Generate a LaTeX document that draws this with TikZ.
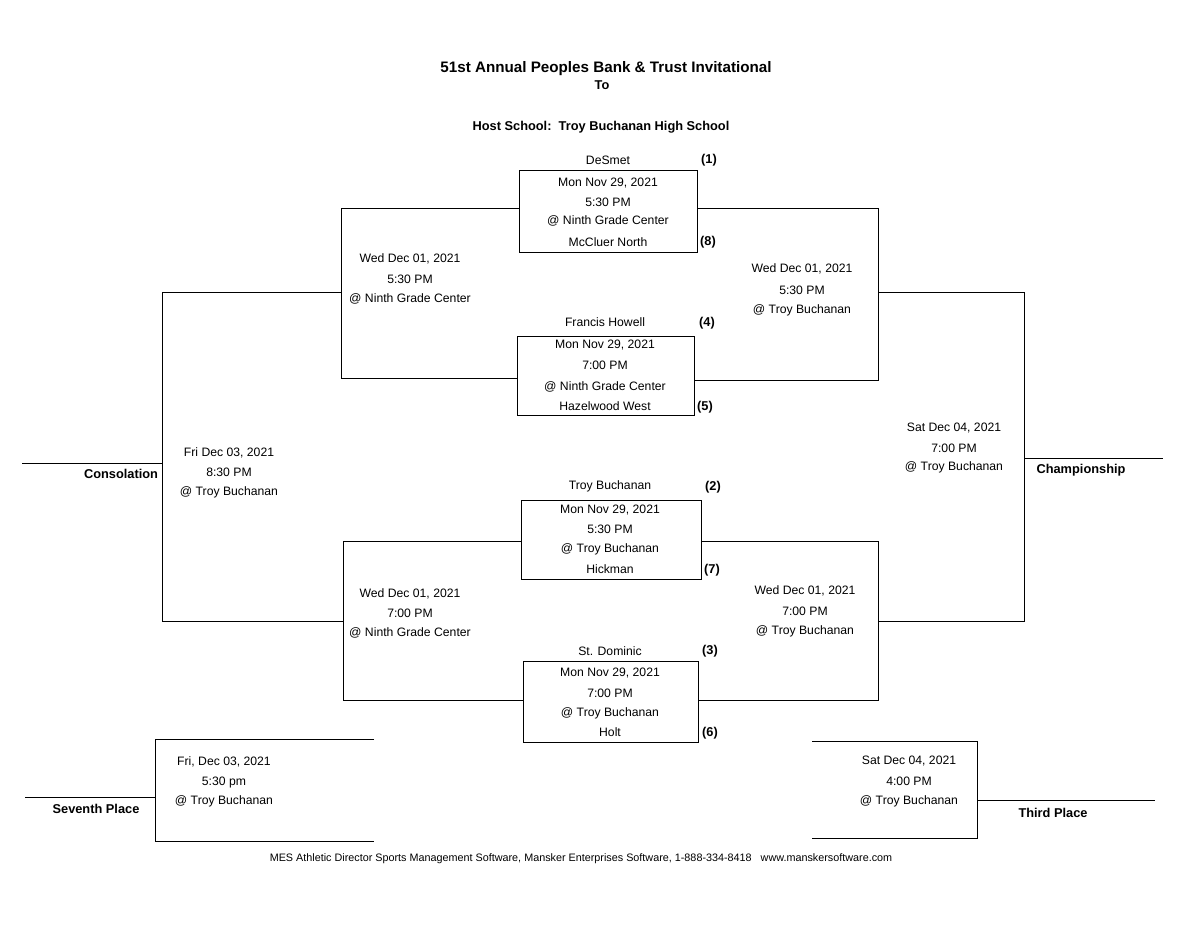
\documentclass[tikz,border=0pt]{standalone}
\usepackage{fontspec}
\setmainfont{Liberation Sans}
\begin{document}
\begin{tikzpicture}[x=0.5pt,y=-0.5pt,
  t/.style={font=\fontsize{6.1pt}{7pt}\selectfont,inner sep=0pt},
  b/.style={font=\fontsize{6.4pt}{7pt}\selectfont\bfseries,inner sep=0pt},
  l/.style={line width=0.5pt}]
\useasboundingbox (0,0) rectangle (1200,927);
% title
\node[font=\fontsize{7.6pt}{9pt}\selectfont\bfseries,inner sep=0] (title) at (606,69) {51st Annual Peoples Bank \& Trust Invitational};
\node[b] (to) at (602,85) {To};
\node[b] (host) at (601,127) {Host School:\ \ Troy Buchanan High School};
% boxes
\draw[l] (519,170) rectangle (697,252);
\draw[l] (517,336) rectangle (694,415);
\draw[l] (521,500) rectangle (701,579);
\draw[l] (523,661) rectangle (698,742);
% brackets
\draw[l] (519,208) -- (341,208) -- (341,378) -- (517,378);
\draw[l] (697,208) -- (878,208) -- (878,380) -- (694,380);
\draw[l] (521,541) -- (343,541) -- (343,700) -- (523,700);
\draw[l] (701,541) -- (878,541) -- (878,700) -- (698,700);
\draw[l] (341,292) -- (162,292) -- (162,621) -- (343,621);
\draw[l] (878,292) -- (1024,292) -- (1024,621) -- (878,621);
\draw[l] (22,463) -- (162,463);
\draw[l] (1024,458) -- (1163,458);
\draw[l] (374,739) -- (155,739) -- (155,841) -- (374,841);
\draw[l] (25,797) -- (155,797);
\draw[l] (812,741) -- (977,741) -- (977,838) -- (812,838);
\draw[l] (977,800) -- (1155,800);
% box 1
\node[t] (a1) at (608,160) {DeSmet};
\node[b] (s1) at (709,160) {(1)};
\node[t] (a2) at (608,183) {Mon Nov 29, 2021};
\node[t] (a3) at (608,202) {5:30 PM};
\node[t] (a4) at (608,221) {@ Ninth Grade Center};
\node[t] (a5) at (608,242) {McCluer North};
\node[b] (s8) at (708,242) {(8)};
% box 2
\node[t] (b1) at (605,322) {Francis Howell};
\node[b] (s4) at (707,323) {(4)};
\node[t] (b2) at (605,345) {Mon Nov 29, 2021};
\node[t] (b3) at (605,365) {7:00 PM};
\node[t] (b4) at (605,387) {@ Ninth Grade Center};
\node[t] (b5) at (605,406) {Hazelwood West};
\node[b] (s5) at (705,407) {(5)};
% box 3
\node[t] (c1) at (610,486) {Troy Buchanan};
\node[b] (s2) at (713,487) {(2)};
\node[t] (c2) at (610,510) {Mon Nov 29, 2021};
\node[t] (c3) at (610,529) {5:30 PM};
\node[t] (c4) at (610,549) {@ Troy Buchanan};
\node[t] (c5) at (610,569) {Hickman};
\node[b] (s7) at (712,570) {(7)};
% box 4
\node[t] (d1) at (610,651) {St. Dominic};
\node[b] (s3) at (710,651) {(3)};
\node[t] (d2) at (610,673) {Mon Nov 29, 2021};
\node[t] (d3) at (610,693) {7:00 PM};
\node[t] (d4) at (610,713) {@ Troy Buchanan};
\node[t] (d5) at (610,732) {Holt};
\node[b] (s6) at (710,733) {(6)};
% semis
\node[t] (e1) at (410,259) {Wed Dec 01, 2021};
\node[t] (e2) at (410,279) {5:30 PM};
\node[t] (e3) at (410,299) {@ Ninth Grade Center};
\node[t] (f1) at (802,269) {Wed Dec 01, 2021};
\node[t] (f2) at (802,290) {5:30 PM};
\node[t] (f3) at (802,310) {@ Troy Buchanan};
\node[t] (g1) at (410,594) {Wed Dec 01, 2021};
\node[t] (g2) at (410,613) {7:00 PM};
\node[t] (g3) at (410,633) {@ Ninth Grade Center};
\node[t] (h1) at (805,591) {Wed Dec 01, 2021};
\node[t] (h2) at (805,611) {7:00 PM};
\node[t] (h3) at (805,631) {@ Troy Buchanan};
% finals
\node[t] (i1) at (229,453) {Fri Dec 03, 2021};
\node[t] (i2) at (229,472) {8:30 PM};
\node[t] (i3) at (229,492) {@ Troy Buchanan};
\node[t] (j1) at (954,428) {Sat Dec 04, 2021};
\node[t] (j2) at (954,448) {7:00 PM};
\node[t] (j3) at (954,467) {@ Troy Buchanan};
\node[b] (cons) at (121,474) {Consolation};
\node[b] (champ) at (1081,470) {Championship};
\node[t] (k1) at (224,762) {Fri, Dec 03, 2021};
\node[t] (k2) at (224,782) {5:30 pm};
\node[t] (k3) at (224,801) {@ Troy Buchanan};
\node[b] (sev) at (96,809) {Seventh Place};
\node[t] (m1) at (909,761) {Sat Dec 04, 2021};
\node[t] (m2) at (909,781) {4:00 PM};
\node[t] (m3) at (909,801) {@ Troy Buchanan};
\node[b] (third) at (1053,813) {Third Place};
\node[font=\fontsize{5.4pt}{6pt}\selectfont,inner sep=0pt] (foot) at (581,859) {MES Athletic Director Sports Management Software, Mansker Enterprises Software, 1-888-334-8418\ \ \ www.manskersoftware.com};
\end{tikzpicture}
\end{document}
